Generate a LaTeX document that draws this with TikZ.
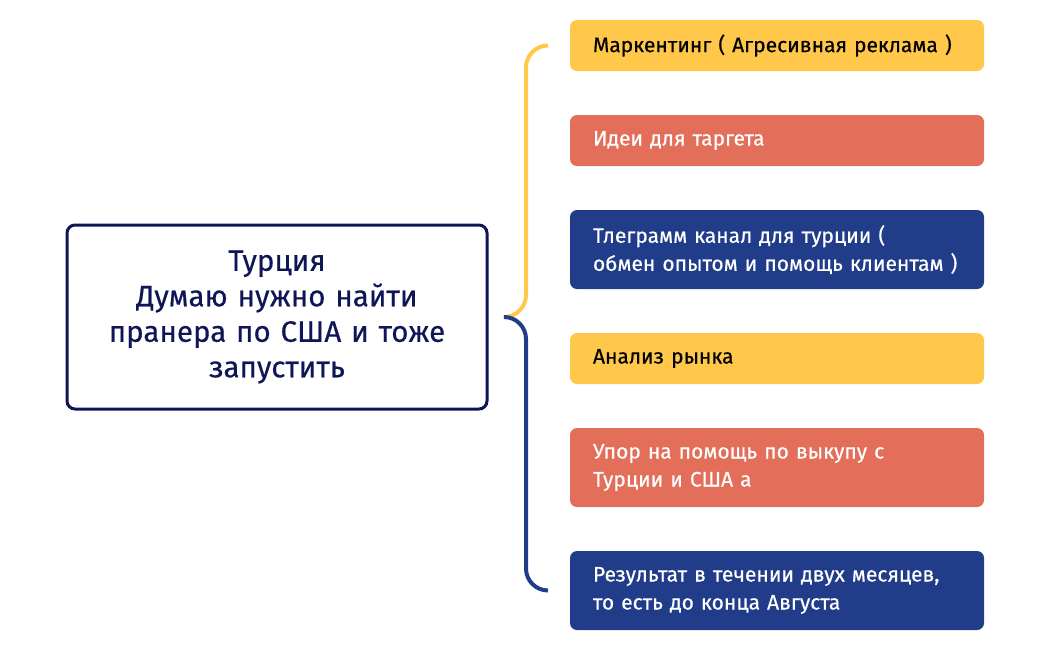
\documentclass[tikz,border=0pt]{standalone}
\usepackage{fontspec}
\setmainfont{Fira Sans}[FakeBold=0.4]
\usepackage{xcolor}
\usetikzlibrary{shapes,arrows,positioning,calc}

\definecolor{ideayellow}{HTML}{FFC84A}
\definecolor{ideared}{HTML}{E36E5A}
\definecolor{ideanavy}{HTML}{213D8A}
\definecolor{topicnavy}{HTML}{0E1655}

\begin{document}
\begin{tikzpicture}[x=1pt, y=1pt, node distance=44pt, thick]
\tikzstyle{topic} = [rectangle, draw=topicnavy, line width=3pt, rounded corners=8pt, minimum width=420pt, minimum height=184pt, text width=400pt, align=center, text=topicnavy, font=\fontsize{29.5}{35.5}\selectfont]
\tikzstyle{idea} = [rectangle, rounded corners=7pt, outer sep=0pt, minimum width=414pt, minimum height=51pt, inner xsep=23pt, text width=368pt, align=left, font=\fontsize{21}{28}\selectfont]
\tikzstyle{ideatall} = [idea, minimum height=79pt]
\tikzstyle{brace} = [line width=4pt, rounded corners=22pt]

\useasboundingbox (0,0) rectangle (1050,-649);

\node [topic] (turkey) at (277,-317) {Турция\\Думаю нужно найти\\пранера по США и тоже\\запустить};

\node [idea, fill=ideayellow, anchor=north west] (marketing) at (570,-20) {Маркентинг ( Агресивная реклама )};
\node [idea, fill=ideared, text=white, below=of marketing] (target) {Идеи для таргета};
\node [ideatall, fill=ideanavy, text=white, below=of target] (telegram) {Тлеграмм канал для турции (\\обмен опытом и помощь клиентам )};
\node [idea, fill=ideayellow, below=of telegram] (market) {Анализ рынка};
\node [ideatall, fill=ideared, text=white, below=of market] (buyout) {Упор на помощь по выкупу с\\Турции и США а};
\node [ideatall, fill=ideanavy, text=white, below=of buyout] (result) {Результат в течении двух месяцев,\\то есть до конца Августа};

\coordinate (fork) at ($(turkey.east)+(16,0)$);

\draw [brace, ideayellow] (fork) -| ($(marketing.west)+(-44,0)$) -- ($(marketing.west)+(-22,0)$);
\draw [brace, ideanavy] (fork) -| ($(result.west)+(-44,0)$) -- ($(result.west)+(-22,0)$);

\end{tikzpicture}
\end{document}
